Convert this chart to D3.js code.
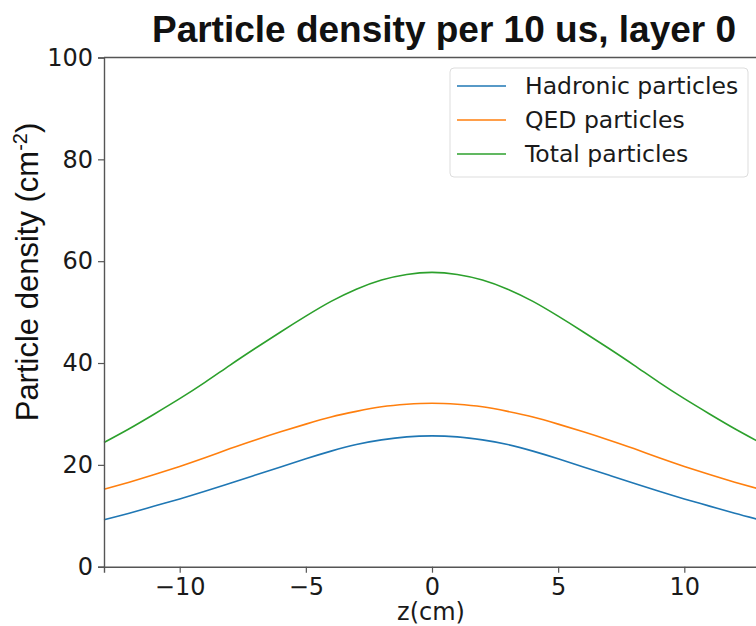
<!DOCTYPE html>
<html>
<head>
<meta charset="utf-8">
<script src="https://cdn.jsdelivr.net/npm/d3@7"></script>
<style>
  body { margin: 0; background: #fff; }
  svg { display: block; }
</style>
</head>
<body>
<script>
const zValues = [-13, -12, -11, -10, -9, -8, -7, -6, -5, -4, -3, -2, -1, 0,
                 1, 2, 3, 4, 5, 6, 7, 8, 9, 10, 11, 12, 13];

// particle densities (cm^-2)
const hadronic = [9.2, 10.5, 11.9, 13.3, 14.8, 16.4, 18.0, 19.6, 21.2, 22.7, 24.0, 24.9, 25.5, 25.7,
                  25.5, 24.9, 24.0, 22.7, 21.2, 19.6, 18.0, 16.4, 14.8, 13.3, 11.9, 10.5, 9.2];
const qed = [15.2, 16.6, 18.1, 19.7, 21.4, 23.2, 24.9, 26.5, 28.0, 29.4, 30.5, 31.4, 31.9, 32.1,
             31.9, 31.4, 30.5, 29.4, 28.0, 26.5, 24.9, 23.2, 21.4, 19.7, 18.1, 16.6, 15.2];
const total = [24.4, 27.1, 30.0, 33.0, 36.2, 39.6, 42.9, 46.1, 49.2, 52.1, 54.5, 56.3, 57.4, 57.8,
               57.4, 56.3, 54.5, 52.1, 49.2, 46.1, 42.9, 39.6, 36.2, 33.0, 30.0, 27.1, 24.4];

const seriesNames = ["Hadronic particles", "QED particles", "Total particles"];
const seriesColors = ["#1f77b4", "#ff7f0e", "#2ca02c"];
const xTicks = [-10, -5, 0, 5, 10];
const yTicks = [0, 20, 40, 60, 80, 100];

const width = 756, height = 626;
const plotLeft = 104, plotRight = 760, plotTop = 57.5, plotBottom = 566.7;

const svg = d3.select("body").append("svg")
  .attr("width", width)
  .attr("height", height);

const x = d3.scaleLinear().domain([-13, 13]).range([plotLeft, plotRight]);
const y = d3.scaleLinear().domain([0, 100]).range([plotBottom, plotTop]);

// lines
const line = d3.line()
  .x((d) => x(d[0]))
  .y((d) => y(d[1]))
  .curve(d3.curveNatural);

[hadronic, qed, total].forEach((vals, i) => {
  svg.append("path")
    .datum(zValues.map((z, j) => [z, vals[j]]))
    .attr("fill", "none")
    .attr("stroke", seriesColors[i])
    .attr("stroke-width", 1.6)
    .attr("d", line);
});

// axes
const xAxis = svg.append("g")
  .attr("transform", `translate(0,${plotBottom})`)
  .call(d3.axisBottom(x).tickValues(xTicks).tickSize(6).tickPadding(5)
    .tickFormat((d) => (d < 0 ? "\u2212" + Math.abs(d) : d)));

const yAxis = svg.append("g")
  .attr("transform", `translate(${plotLeft},0)`)
  .call(d3.axisLeft(y).tickValues(yTicks).tickSize(6).tickPadding(5));

[xAxis, yAxis].forEach((g) => {
  g.select(".domain").attr("stroke", "#555").attr("stroke-width", 1.4);
  g.selectAll(".tick line").attr("stroke", "#555").attr("stroke-width", 1.2);
  g.selectAll(".tick text")
    .attr("fill", "#1a1a1a")
    .style("font-family", "DejaVu Sans")
    .style("font-size", "24px");
});

// top spine
svg.append("line")
  .attr("x1", plotLeft).attr("x2", plotRight)
  .attr("y1", plotTop).attr("y2", plotTop)
  .attr("stroke", "#555")
  .attr("stroke-width", 1.4);

// title
svg.append("text")
  .attr("x", 444)
  .attr("y", 42)
  .attr("text-anchor", "middle")
  .style("font-family", "Liberation Sans, Arial, sans-serif")
  .style("font-weight", "bold")
  .style("font-size", "37px")
  .attr("fill", "#111")
  .text("Particle density per 10 us, layer 0");

// axis labels
svg.append("text")
  .attr("x", 431)
  .attr("y", 620)
  .attr("text-anchor", "middle")
  .style("font-family", "DejaVu Sans")
  .style("font-size", "24px")
  .attr("fill", "#1a1a1a")
  .text("z(cm)");

const yLabel = svg.append("text")
  .attr("transform", "translate(38,272) rotate(-90)")
  .attr("text-anchor", "middle")
  .style("font-family", "Liberation Sans, Arial, sans-serif")
  .style("font-size", "31px")
  .attr("fill", "#111");
yLabel.append("tspan").text("Particle density (cm");
yLabel.append("tspan").attr("dy", -11).style("font-size", "20px").text("-2");
yLabel.append("tspan").attr("dy", 11).text(")");

// legend
const legend = svg.append("g");
legend.append("rect")
  .attr("x", 450).attr("y", 68)
  .attr("width", 298).attr("height", 109)
  .attr("rx", 4)
  .attr("fill", "#fff")
  .attr("stroke", "#ddd")
  .attr("stroke-width", 1);

seriesNames.forEach((name, i) => {
  const cy = 86 + i * 34;
  legend.append("line")
    .attr("x1", 457).attr("x2", 506)
    .attr("y1", cy).attr("y2", cy)
    .attr("stroke", seriesColors[i])
    .attr("stroke-width", 1.6);
  legend.append("text")
    .attr("x", 525)
    .attr("y", cy + 8)
    .style("font-family", "DejaVu Sans")
    .style("font-size", "23.5px")
    .attr("fill", "#1a1a1a")
    .text(name);
});
</script>
</body>
</html>
